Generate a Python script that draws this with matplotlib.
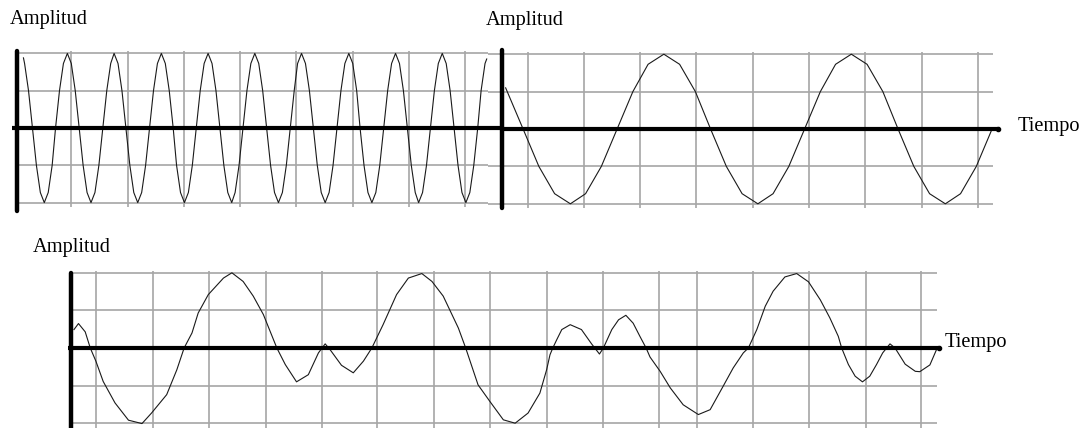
import matplotlib
matplotlib.use("Agg")
import matplotlib.pyplot as plt

W, H = 1089, 428

# grid line positions (in grid units, origin at each vertical axis)
grid_y = [-2, -1, 1, 2]
tl_grid_x = [0.97, 1.97, 2.97, 3.97, 4.97, 5.97, 6.97, 7.97]
tr_grid_x = [0.46, 1.46, 2.46, 3.46, 4.46, 5.46, 6.46, 7.46, 8.46]
bt_grid_x = [0.46, 1.46, 2.46, 3.47, 4.47, 5.46, 6.47, 7.47, 8.47, 9.47,
             10.47, 11.15, 12.14, 13.14, 14.15, 15.14]

# top left: fast wave
tl_x = [0.12,
        0.14, 0.21, 0.28, 0.35, 0.42, 0.49, 0.56, 0.63, 0.69, 0.76, 0.83, 0.90,
        0.97, 1.04, 1.11, 1.18, 1.25, 1.32, 1.39, 1.46, 1.53, 1.60, 1.67, 1.73,
        1.80, 1.87, 1.94, 2.01, 2.08, 2.15, 2.22, 2.29, 2.36, 2.43, 2.50, 2.57,
        2.64, 2.71, 2.78, 2.84, 2.91, 2.98, 3.05, 3.12, 3.19, 3.26, 3.33, 3.40,
        3.47, 3.54, 3.61, 3.68, 3.75, 3.82, 3.88, 3.95, 4.02, 4.09, 4.16, 4.23,
        4.30, 4.37, 4.44, 4.51, 4.58, 4.65, 4.72, 4.79, 4.86, 4.93, 4.99, 5.06,
        5.13, 5.20, 5.27, 5.34, 5.41, 5.48, 5.55, 5.62, 5.69, 5.76, 5.83, 5.90,
        5.97, 6.04, 6.10, 6.17, 6.24, 6.31, 6.38, 6.45, 6.52, 6.59, 6.66, 6.73,
        6.80, 6.87, 6.94, 7.01, 7.08, 7.14, 7.21, 7.28, 7.35, 7.42, 7.49, 7.56,
        7.63, 7.70, 7.77, 7.84, 7.91, 7.98, 8.05, 8.12, 8.19, 8.25, 8.32,
        8.35]
tl_y = [1.88,
        1.73, 1, 0, -1, -1.73, -2, -1.73, -1, 0, 1, 1.73, 2,
        1.73, 1, 0, -1, -1.73, -2, -1.73, -1, 0, 1, 1.73, 2,
        1.73, 1, 0, -1, -1.73, -2, -1.73, -1, 0, 1, 1.73, 2,
        1.73, 1, 0, -1, -1.73, -2, -1.73, -1, 0, 1, 1.73, 2,
        1.73, 1, 0, -1, -1.73, -2, -1.73, -1, 0, 1, 1.73, 2,
        1.73, 1, 0, -1, -1.73, -2, -1.73, -1, 0, 1, 1.73, 2,
        1.73, 1, 0, -1, -1.73, -2, -1.73, -1, 0, 1, 1.73, 2,
        1.73, 1, 0, -1, -1.73, -2, -1.73, -1, 0, 1, 1.73, 2,
        1.73, 1, 0, -1, -1.73, -2, -1.73, -1, 0, 1, 1.73, 2,
        1.73, 1, 0, -1, -1.73, -2, -1.73, -1, 0, 1, 1.73,
        1.85]

# top right: slow wave
tr_x = [0.07, 0.38, 0.66, 0.94, 1.22, 1.49, 1.77, 2.05, 2.33, 2.60, 2.88,
        3.16, 3.44, 3.71, 3.99, 4.27, 4.55, 4.82, 5.10, 5.38, 5.66, 5.93,
        6.21, 6.49, 6.77, 7.04, 7.32, 7.60, 7.88, 8.15, 8.43, 8.71]
tr_y = [1.1, 0, -1, -1.73, -2, -1.73, -1, 0, 1, 1.73, 2,
        1.73, 1, 0, -1, -1.73, -2, -1.73, -1, 0, 1, 1.73,
        2, 1.73, 1, 0, -1, -1.73, -2, -1.73, -1, 0]

# bottom: combined signal
bt_x = [0.06, 0.14, 0.26, 0.35, 0.45, 0.58, 0.79, 1.03, 1.27, 1.44,
        1.71, 1.89, 2.02, 2.16, 2.27, 2.45, 2.72, 2.87, 3.07, 3.25,
        3.43, 3.67, 3.82, 4.02, 4.23, 4.41, 4.53, 4.62, 4.82, 5.03,
        5.21, 5.36, 5.56, 5.80, 6.01, 6.25, 6.43, 6.63, 6.90, 7.03,
        7.25, 7.46, 7.70, 7.91, 8.14, 8.35, 8.47, 8.53, 8.58, 8.65,
        8.74, 8.89, 9.09, 9.27, 9.41, 9.48, 9.63, 9.75, 9.88, 10.01,
        10.13, 10.24, 10.31, 10.49, 10.67, 10.90, 11.17, 11.38, 11.61, 11.79,
        11.97, 12.06, 12.21, 12.36, 12.50, 12.71, 12.92, 13.13, 13.34, 13.51,
        13.66, 13.72, 13.84, 13.96, 14.09, 14.22, 14.34, 14.45, 14.58, 14.67,
        14.85, 15.03, 15.11, 15.29, 15.42]
bt_y = [0.49, 0.65, 0.43, 0, -0.35, -0.89, -1.46, -1.92, -2.01, -1.73,
        -1.24, -0.58, 0, 0.40, 0.93, 1.42, 1.86, 2.0, 1.77, 1.38,
        0.89, 0, -0.44, -0.90, -0.71, -0.13, 0.11, -0.05, -0.46, -0.66,
        -0.35, 0, 0.62, 1.42, 1.86, 1.98, 1.77, 1.38, 0.53, 0,
        -0.98, -1.42, -1.91, -2.0, -1.73, -1.20, -0.58, -0.18, 0, 0.22,
        0.49, 0.62, 0.49, 0.11, -0.16, 0, 0.49, 0.75, 0.87, 0.66,
        0.31, 0, -0.24, -0.62, -1.06, -1.51, -1.77, -1.64, -1.02, -0.53,
        -0.13, 0, 0.49, 1.11, 1.51, 1.89, 1.98, 1.76, 1.28, 0.80,
        0.31, 0, -0.44, -0.75, -0.90, -0.75, -0.44, -0.13, 0.11, 0,
        -0.43, -0.62, -0.63, -0.45, 0]

GRID = "#a6a6a6"
WAVE = "#1a1a1a"

fig = plt.figure(figsize=(W / 100, H / 100), dpi=100)
fig.patch.set_facecolor("white")


def panel(ox, oy, ux, uy, xlim, ylim):
    # ox, oy: pixel position of the axis origin; ux, uy: pixels per grid unit
    left = ox + xlim[0] * ux
    bottom = H - (oy - ylim[0] * uy)
    ax = fig.add_axes([left / W, bottom / H,
                       (xlim[1] - xlim[0]) * ux / W, (ylim[1] - ylim[0]) * uy / H])
    ax.set_xlim(*xlim)
    ax.set_ylim(*ylim)
    ax.axis("off")
    return ax


def draw(ax, gx, gx_end, gx_start, vtop, vbot, wx, wy, axis_x, axis_top, axis_bot, arrow):
    ax.vlines(gx, vbot, vtop, color=GRID, lw=1.2, zorder=1, clip_on=False)
    ax.hlines(grid_y, gx_start, gx_end, color=GRID, lw=1.2, zorder=1, clip_on=False)
    ax.plot(wx, wy, color=WAVE, lw=0.8, zorder=3, clip_on=False)
    ax.plot(axis_x, [0, 0], color="black", lw=3.0, solid_capstyle="butt",
            zorder=4, clip_on=False)
    ax.plot([0, 0], [axis_bot, axis_top], color="black", lw=3.2,
            solid_capstyle="round", zorder=4, clip_on=False)
    if arrow:
        ax.plot([axis_x[1]], [0], marker="o", ms=3, color="black", zorder=4,
                clip_on=False)


ax1 = panel(16.7, 128, 56.29, 37.3, (-0.3, 8.7), (-2.3, 2.2))
draw(ax1, tl_grid_x, 8.37, 0, 2.07, -2.13, tl_x, tl_y,
     [-0.08, 8.62], 2.07, -2.22, False)

ax2 = panel(501.7, 129, 56.3, 37.4, (-0.4, 9.0), (-2.3, 2.2))
draw(ax2, tr_grid_x, 8.73, -0.25, 2.07, -2.12, tr_x, tr_y,
     [0, 8.82], 2.1, -2.12, True)

ax3 = panel(70.6, 348, 56.2, 37.6, (-0.3, 15.6), (-2.3, 2.1))
draw(ax3, bt_grid_x, 15.42, 0, 2.04, -2.4, bt_x, bt_y,
     [-0.05, 15.46], 2.0, -2.4, True)

txt = dict(family=["Liberation Serif", "DejaVu Serif"], fontsize=14.7, color="black")
fig.text(10 / W, 1 - 24 / H, "Amplitud", ha="left", va="baseline", **txt)
fig.text(486 / W, 1 - 25 / H, "Amplitud", ha="left", va="baseline", **txt)
fig.text(33 / W, 1 - 252 / H, "Amplitud", ha="left", va="baseline", **txt)
fig.text(1018 / W, 1 - 127 / H, "Tiempo", ha="left", va="center", **txt)
fig.text(945 / W, 1 - 342 / H, "Tiempo", ha="left", va="center", **txt)

fig.savefig("out.png", dpi=100, facecolor="white")
